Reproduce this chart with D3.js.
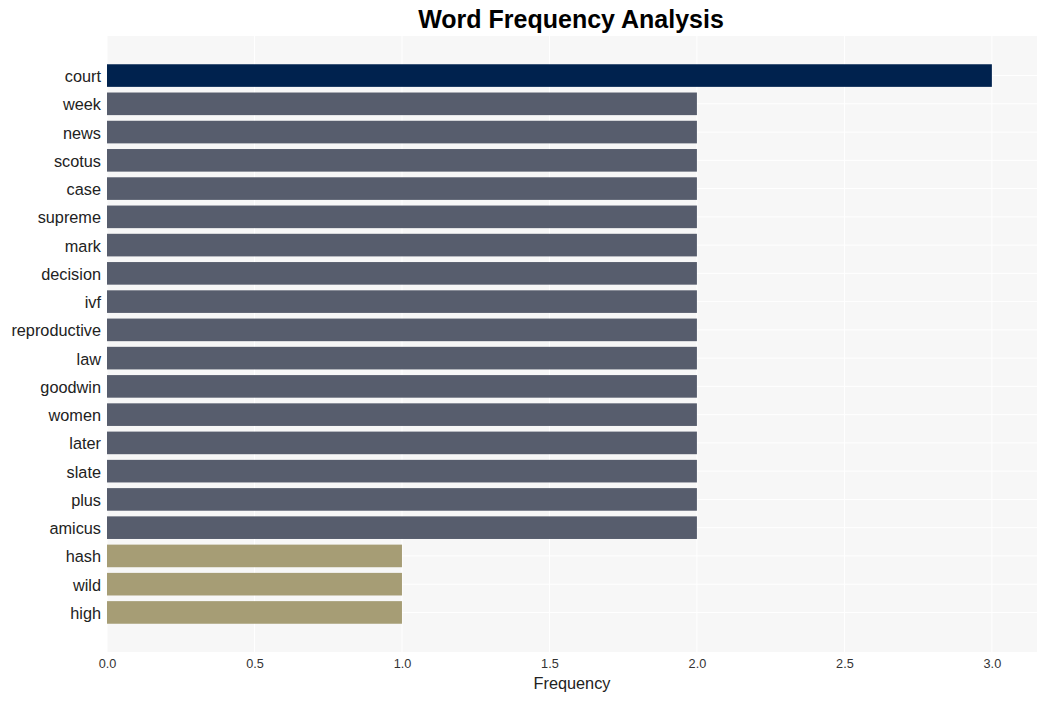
<!DOCTYPE html>
<html><head><meta charset="utf-8">
<script src="https://cdn.jsdelivr.net/npm/d3@7"></script>
<style>body{margin:0;background:#fff;font-family:"Liberation Sans",Arial,sans-serif}</style>
</head><body><svg id="c" width="1046" height="701"></svg>
<script>
const words = ["court","week","news","scotus","case","supreme","mark","decision","ivf","reproductive","law","goodwin","women","later","slate","plus","amicus","hash","wild","high"];
const counts = [3,2,2,2,2,2,2,2,2,2,2,2,2,2,2,2,2,1,1,1];
const xTicks = [0,0.5,1.0,1.5,2.0,2.5,3.0];
const colorByCount = {3:"#00224e",2:"#575d6d",1:"#a69d75"};

const svg = d3.select("#c");
const L=107,R=1037,T=36,B=652;
const x = d3.scaleLinear().domain([0,3.153]).range([L,R]);
const y = d3.scaleBand().domain(words).range([T,B]).paddingInner(0.2).paddingOuter(1.0);

svg.append("rect").attr("x",L).attr("y",T).attr("width",R-L).attr("height",B-T).attr("fill","#f7f7f7");
// gridlines
svg.append("g").selectAll("line").data(xTicks).join("line")
  .attr("x1",d=>x(d)).attr("x2",d=>x(d)).attr("y1",T).attr("y2",B)
  .attr("stroke","#fff").attr("stroke-width",1);
svg.append("g").selectAll("line").data(words).join("line")
  .attr("x1",L).attr("x2",R).attr("y1",d=>y(d)+y.bandwidth()/2).attr("y2",d=>y(d)+y.bandwidth()/2)
  .attr("stroke","#fff").attr("stroke-width",1);

svg.append("g").selectAll("rect").data(words).join("rect")
  .attr("x",x(0)).attr("y",d=>y(d)).attr("height",y.bandwidth())
  .attr("width",(d,i)=>x(counts[i])-x(0)).attr("fill",(d,i)=>colorByCount[counts[i]]);

// y labels
const ya = svg.append("g").attr("transform",`translate(${L},0)`)
  .call(d3.axisLeft(y).tickSize(0).tickPadding(6));
ya.select(".domain").remove();
ya.selectAll("text").attr("font-size","16.3px").attr("fill","#222").attr("dy","0.4em").attr("font-family","Liberation Sans, Arial, sans-serif");

const xa = svg.append("g").attr("transform",`translate(0,${B})`)
  .call(d3.axisBottom(x).tickValues(xTicks).tickFormat(d3.format(".1f")).tickSize(0).tickPadding(7));
xa.select(".domain").remove();
xa.selectAll("text").attr("font-size","12.7px").attr("fill","#333").attr("font-family","Liberation Sans, Arial, sans-serif");

svg.append("text").attr("x",(L+R)/2).attr("y",689).attr("text-anchor","middle")
  .attr("font-size","16.3px").attr("fill","#222").text("Frequency");
svg.append("text").attr("x",571).attr("y",28).attr("text-anchor","middle")
  .attr("font-size","25px").attr("font-weight","bold").attr("fill","#000").text("Word Frequency Analysis");
</script></body></html>
